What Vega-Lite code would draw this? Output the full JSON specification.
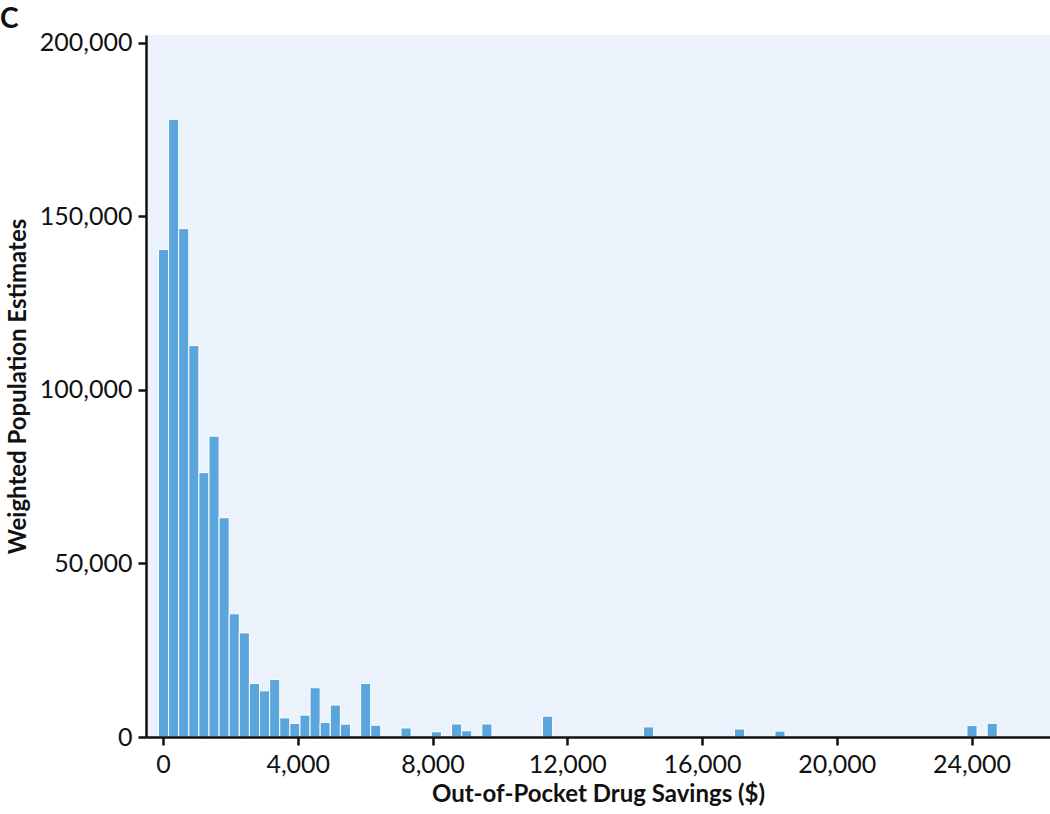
{
  "$schema": "https://vega.github.io/schema/vega-lite/v6.json",
  "autosize": {"type": "none"},
  "width": 904,
  "height": 702,
  "padding": {"left": 146, "top": 35, "right": 0, "bottom": 77},
  "background": "white",
  "title": {"text": "C", "anchor": "start", "frame": "group", "dx": -146, "dy": 12, "offset": 9, "fontSize": 28, "font": "Lato", "fontWeight": "bold", "color": "#111111"},
  "config": {
    "view": {"fill": "#EBF2FB", "stroke": null},
    "font": "Lato"
  },
  "data": {"values": [
    {"savings": 0, "weight": 140500},
    {"savings": 300, "weight": 178000},
    {"savings": 600, "weight": 146500},
    {"savings": 900, "weight": 112800},
    {"savings": 1200, "weight": 76200},
    {"savings": 1500, "weight": 86700},
    {"savings": 1800, "weight": 63200},
    {"savings": 2100, "weight": 35500},
    {"savings": 2400, "weight": 30000},
    {"savings": 2700, "weight": 15400},
    {"savings": 3000, "weight": 13300},
    {"savings": 3300, "weight": 16600},
    {"savings": 3600, "weight": 5500},
    {"savings": 3900, "weight": 3900},
    {"savings": 4200, "weight": 6300},
    {"savings": 4500, "weight": 14200},
    {"savings": 4800, "weight": 4200},
    {"savings": 5100, "weight": 9200},
    {"savings": 5400, "weight": 3700},
    {"savings": 6000, "weight": 15400},
    {"savings": 6300, "weight": 3400},
    {"savings": 7200, "weight": 2600},
    {"savings": 8100, "weight": 1500},
    {"savings": 8700, "weight": 3750},
    {"savings": 9000, "weight": 1800},
    {"savings": 9600, "weight": 3750},
    {"savings": 11400, "weight": 6000},
    {"savings": 14400, "weight": 2900},
    {"savings": 17100, "weight": 2300},
    {"savings": 18300, "weight": 1700},
    {"savings": 24000, "weight": 3300},
    {"savings": 24600, "weight": 3950}
  ]},
  "mark": {"type": "bar", "fill": "#5AA5DC", "stroke": "white", "strokeWidth": 1, "binSpacing": 0},
  "encoding": {
    "x": {
      "field": "savings",
      "type": "quantitative",
      "bin": {"step": 300, "anchor": -150, "extent": [-150, 24750]},
      "scale": {"domain": [-505, 26330], "nice": false, "zero": false},
      "axis": {
        "title": "Out-of-Pocket Drug Savings ($)",
        "values": [0, 4000, 8000, 12000, 16000, 20000, 24000],
        "format": ",.0f",
        "grid": false,
        "zindex": 1,
        "domainColor": "#111111",
        "domainWidth": 2.5,
        "tickColor": "#111111",
        "tickWidth": 2.5,
        "tickSize": 8,
        "labelFontSize": 25,
        "labelColor": "#111111",
        "labelPadding": 7,
        "labelFlush": false,
        "titleFontSize": 24,
        "titleFontWeight": "bold",
        "titleColor": "#111111",
        "titlePadding": 5
      }
    },
    "y": {
      "aggregate": "sum",
      "field": "weight",
      "type": "quantitative",
      "scale": {"domain": [0, 202300], "nice": false},
      "axis": {
        "title": "Weighted Population Estimates",
        "values": [0, 50000, 100000, 150000, 200000],
        "format": ",.0f",
        "grid": false,
        "zindex": 1,
        "domainColor": "#111111",
        "domainWidth": 2.5,
        "tickColor": "#111111",
        "tickWidth": 2.5,
        "tickSize": 8,
        "labelFontSize": 25,
        "labelColor": "#111111",
        "labelPadding": 6,
        "titleFontSize": 24,
        "titleFontWeight": "bold",
        "titleColor": "#111111",
        "titlePadding": 9
      }
    }
  }
}
